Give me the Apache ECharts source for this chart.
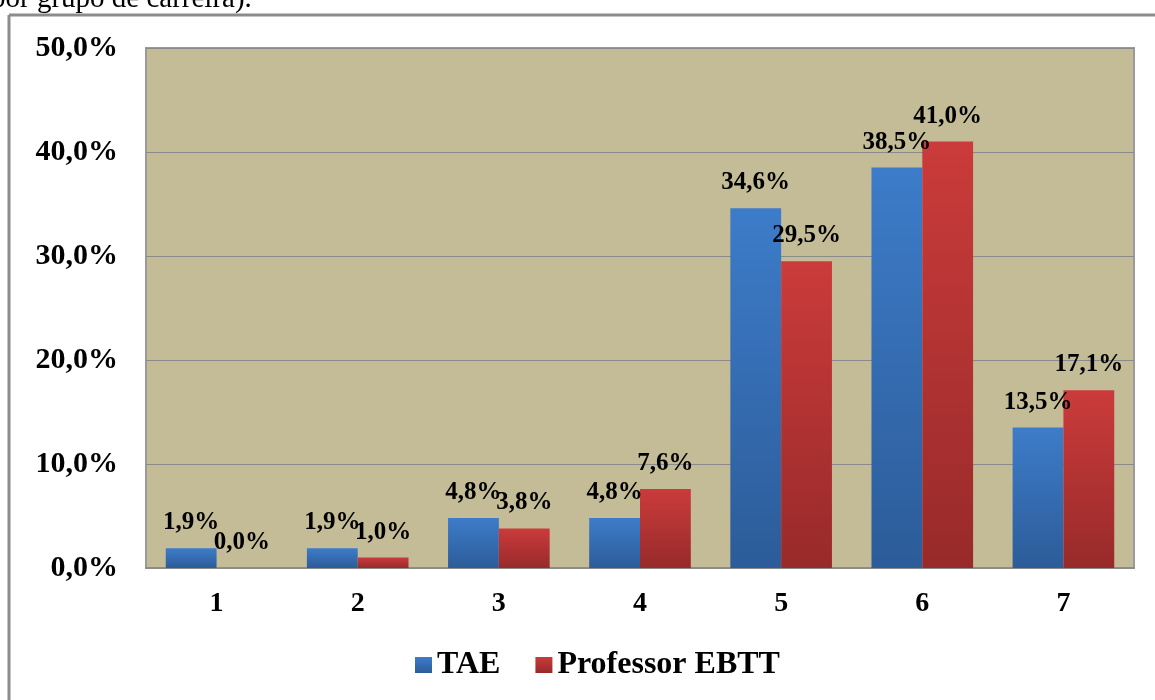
<!DOCTYPE html>
<html>
<head>
<meta charset="utf-8">
<script src="https://cdn.jsdelivr.net/npm/echarts@6/dist/echarts.min.js"></script>
<style>html,body{margin:0;padding:0;background:#fff;}#c{width:1155px;height:700px;}</style>
</head>
<body>
<div id="c"></div>
<script>
var categories = ['1', '2', '3', '4', '5', '6', '7'];
var tae = [1.9, 1.9, 4.8, 4.8, 34.6, 38.5, 13.5];
var ebtt = [0.0, 1.0, 3.8, 7.6, 29.5, 41.0, 17.1];
var seriesNames = ['TAE', 'Professor EBTT'];
var captionText = 'por grupo de carreira).';

function fmt(v) { return v.toFixed(1).replace('.', ',') + '%'; }
var font = '"Liberation Serif", "Times New Roman", serif';

var chart = echarts.init(document.getElementById('c'));
chart.setOption({
  animation: false,
  backgroundColor: '#ffffff',
  graphic: [
    { type: 'text', left: -9, top: -15, style: { text: captionText, font: '29px "Liberation Serif", serif', fill: '#000' } },
    { type: 'line', shape: { x1: 9, y1: 15, x2: 1155, y2: 15 }, style: { stroke: '#8c8c8c', lineWidth: 3 } },
    { type: 'line', shape: { x1: 9, y1: 15, x2: 9, y2: 700 }, style: { stroke: '#8c8c8c', lineWidth: 3 } }
  ],
  grid: { left: 146, top: 48, right: 21, bottom: 132, show: true, backgroundColor: '#c4bc96', borderColor: '#9a9a9a', borderWidth: 2 },
  legend: {
    data: seriesNames, bottom: 14, left: 410, itemWidth: 17, itemHeight: 16, itemGap: 35,
    icon: 'rect',
    textStyle: { fontFamily: font, fontWeight: 'bold', fontSize: 32, color: '#000' }
  },
  xAxis: {
    type: 'category', data: categories,
    axisLine: { lineStyle: { color: '#8c8c8c', width: 2 } },
    axisTick: { show: false },
    axisLabel: { margin: 22, fontFamily: font, fontWeight: 'bold', fontSize: 28, color: '#000' }
  },
  yAxis: {
    type: 'value', min: 0, max: 50, interval: 10,
    axisLine: { show: false }, axisTick: { show: false },
    splitLine: { lineStyle: { color: '#8a8a8a', width: 1 } },
    axisLabel: { margin: 28, fontFamily: font, fontWeight: 'bold', fontSize: 30, color: '#000', formatter: function (v) { return fmt(v); } }
  },
  series: [
    {
      name: seriesNames[0], type: 'bar', data: tae, barGap: '0%', barCategoryGap: '28%',
      itemStyle: { color: { type: 'linear', x: 0, y: 0, x2: 0, y2: 1, colorStops: [{ offset: 0, color: '#3d7cc9' }, { offset: 1, color: '#2c5c99' }] } },
      label: { show: true, position: 'top', distance: 13, fontFamily: font, fontWeight: 'bold', fontSize: 25, color: '#000', formatter: function (p) { return fmt(p.value); } }
    },
    {
      name: seriesNames[1], type: 'bar', data: ebtt,
      itemStyle: { color: { type: 'linear', x: 0, y: 0, x2: 0, y2: 1, colorStops: [{ offset: 0, color: '#cb3b3b' }, { offset: 1, color: '#982a2a' }] } },
      label: { show: true, position: 'top', distance: 13, fontFamily: font, fontWeight: 'bold', fontSize: 25, color: '#000', formatter: function (p) { return fmt(p.value); } }
    }
  ]
});
</script>
</body>
</html>
